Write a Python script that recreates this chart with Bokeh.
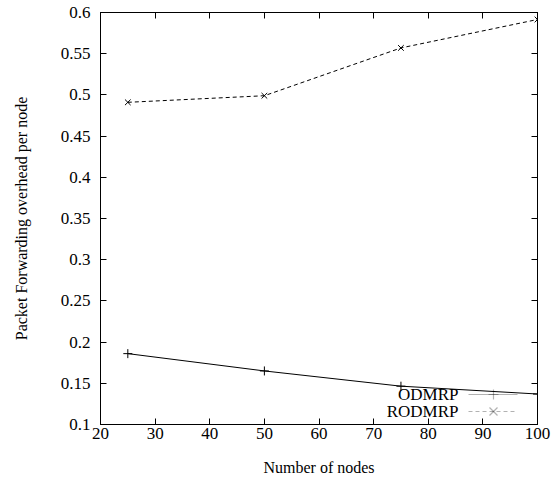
from bokeh.plotting import figure
from bokeh.models import LinearAxis, FixedTicker, Label, PolyAnnotation, Range1d, CustomLabelingPolicy
from bokeh.embed import file_html
from bokeh.resources import INLINE

nodes = [25, 50, 75, 100]
odmrp = [0.186, 0.165, 0.1465, 0.137]
rodmrp = [0.491, 0.499, 0.557, 0.5915]
x_ticks = [20, 30, 40, 50, 60, 70, 80, 90, 100]
y_ticks = [0.1, 0.15, 0.2, 0.25, 0.3, 0.35, 0.4, 0.45, 0.5, 0.55, 0.6]
y_tick_labels = {0.1: "0.1", 0.15: "0.15", 0.2: "0.2", 0.25: "0.25", 0.3: "0.3", 0.35: "0.35",
                 0.4: "0.4", 0.45: "0.45", 0.5: "0.5", 0.55: "0.55", 0.6: "0.6"}
x_tick_labels = {v: str(v) for v in x_ticks}

FONT = "Liberation Serif"
W, H = 555, 478
FL, FT, FR, FB = 100, 12, 537, 424  # frame edges in canvas px

p = figure(width=W, height=H, output_backend="svg", toolbar_location=None,
           x_range=Range1d(20, 100), y_range=Range1d(0.1, 0.6),
           min_border_left=FL, min_border_right=W - FR, min_border_top=FT, min_border_bottom=H - FB,
           x_axis_label="Number of nodes", y_axis_label="Packet Forwarding overhead per node")
p.grid.visible = False
p.outline_line_color = "black"
p.outline_line_width = 1
p.background_fill_color = "white"
p.border_fill_color = "white"

no_labels = CustomLabelingPolicy(code="""
try { for (const i of Array.from(indices)) { indices.unset(i) } } catch (e) {}
return indices
""")

def style(ax, hide=False):
    ax.major_tick_in = 6
    ax.major_tick_out = 0
    ax.minor_tick_in = 0
    ax.minor_tick_out = 0
    ax.axis_line_color = "black"
    ax.major_tick_line_color = "black"
    ax.major_label_text_font = FONT
    ax.major_label_text_font_size = "17px"
    ax.major_label_text_color = "black"
    ax.axis_label_text_font = FONT
    ax.axis_label_text_font_size = "16px"
    ax.axis_label_text_font_style = "normal"
    ax.axis_label_text_color = "black"
    if hide:
        ax.major_label_policy = no_labels
        ax.major_label_standoff = 0
        ax.major_label_text_font_size = "1px"

xa = p.xaxis[0]
xa.ticker = FixedTicker(ticks=x_ticks)
xa.major_label_overrides = x_tick_labels
style(xa)
xa.major_label_standoff = 3
xa.axis_label_standoff = 17

ya = p.yaxis[0]
ya.ticker = FixedTicker(ticks=y_ticks)
ya.major_label_overrides = y_tick_labels
style(ya)
ya.major_label_standoff = 10
ya.axis_label_standoff = 28

top = LinearAxis(ticker=FixedTicker(ticks=x_ticks))
style(top, hide=True)
p.add_layout(top, "above")
right = LinearAxis(ticker=FixedTicker(ticks=y_ticks))
style(right, hide=True)
p.add_layout(right, "right")

DASH = "4 3"
p.line(nodes, odmrp, line_color="black", line_width=1)
p.scatter(nodes, odmrp, marker="cross", size=9, line_color="black", line_width=1)
p.line(nodes, rodmrp, line_color="black", line_width=1, line_dash=DASH)
p.scatter(nodes, rodmrp, marker="x", size=8, line_color="black", line_width=1)

def seg(xs, ys):
    p.add_layout(PolyAnnotation(xs=xs, ys=ys, xs_units="screen", ys_units="screen",
                                fill_alpha=0, line_color="black", line_width=1.2))

# legend (gnuplot style: label then sample); screen units are relative to the frame's bottom-left
entries = [("ODMRP", 394, False, "cross"), ("RODMRP", 411, True, "x")]
for name, yc, dashed, mk in entries:
    ys = FB - yc
    p.add_layout(Label(x=458 - FL, y=ys, x_units="screen", y_units="screen", text=name,
                       text_font=FONT, text_font_size="17px", text_align="right",
                       text_baseline="middle", text_color="black"))
    x0, x1, xm = 468 - FL, 517 - FL, 493 - FL
    if dashed:
        s = x0
        while s < x1:
            e = min(s + 4, x1)
            seg([s, e], [ys, ys])
            s += 7
    else:
        seg([x0, x1], [ys, ys])
    if mk == "cross":
        seg([xm, xm], [ys - 5, ys + 5])
        seg([xm - 5, xm + 5], [ys, ys])
    else:
        seg([xm - 4, xm + 4], [ys - 4, ys + 4])
        seg([xm - 4, xm + 4], [ys + 4, ys - 4])

open("out.html", "w").write(file_html(p, INLINE))
